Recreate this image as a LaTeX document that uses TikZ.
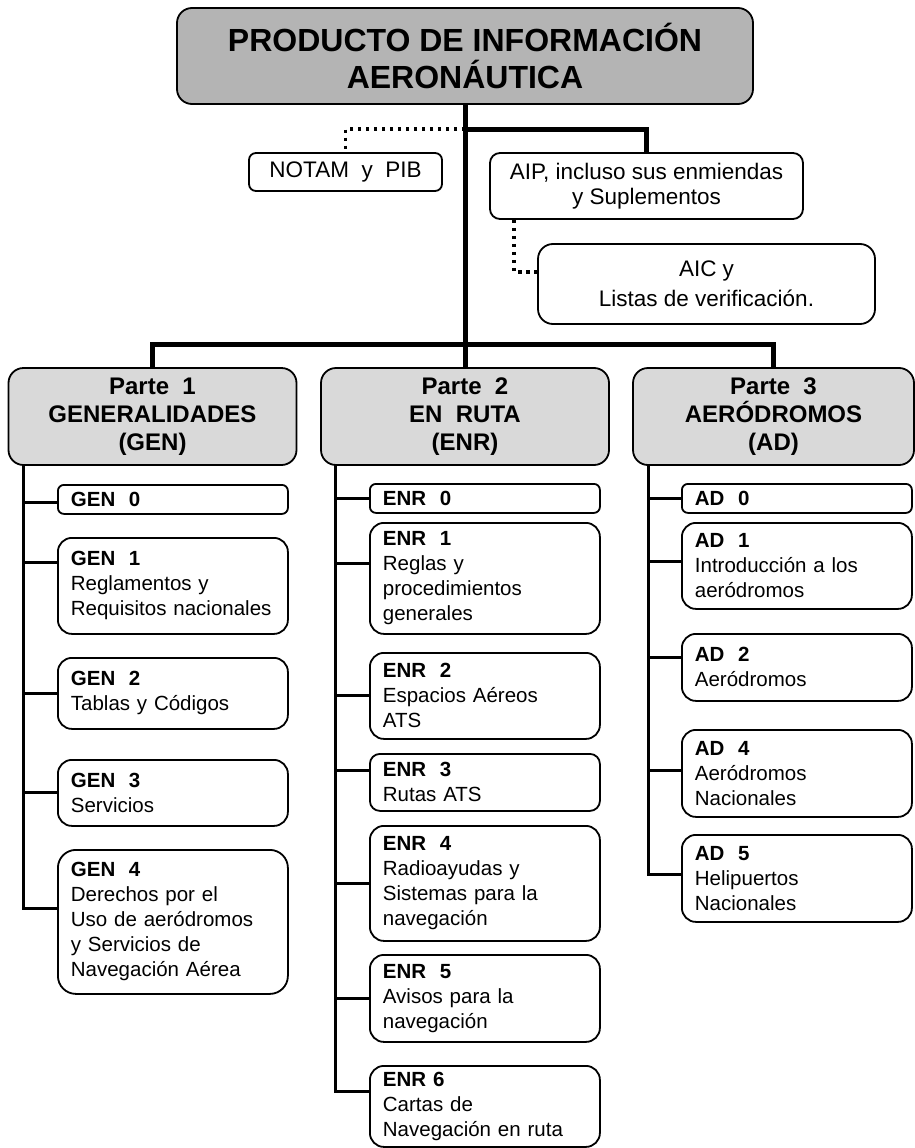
\documentclass[tikz,border=0pt]{standalone}
\usepackage{fontspec}
\setmainfont{Liberation Sans}
\definecolor{topgray}{RGB}{180,180,180}
\definecolor{partgray}{RGB}{217,217,217}
\begin{document}
\begin{tikzpicture}
  [x=1pt,y=-1pt,
   title/.style={rectangle,draw,fill=topgray,line width=1.8pt,rounded corners=15pt,align=center,
                 minimum width=576pt,minimum height=96pt,font=\fontsize{32}{37}\selectfont\bfseries},
   part/.style={rectangle,draw,fill=partgray,line width=1.8pt,rounded corners=15pt,align=center,
                minimum width=288pt,minimum height=97pt,font=\fontsize{24}{28}\selectfont\bfseries},
   note/.style={rectangle,draw,line width=1.8pt,rounded corners=10pt,align=center,inner sep=0pt,
                font=\fontsize{22.5}{25}\selectfont},
   item/.style={rectangle,draw,line width=1.8pt,rounded corners=14pt,anchor=north west,align=left,
                text width=204pt,inner xsep=13pt,inner ysep=0pt,font=\fontsize{20.5}{25}\selectfont},
   itemzero/.style={item,rounded corners=6pt,minimum height=29pt},
   trunk/.style={line width=5pt},
   spine/.style={line width=3pt},
   dotline/.style={line width=3.5pt,dash pattern=on 3.5pt off 4.5pt}]
  \useasboundingbox (0,0) rectangle (915,1148);
  % top level
  \node[title] (top) at (465,56) {PRODUCTO DE INFORMACIÓN\\AERONÁUTICA};
  \node[note,minimum width=193pt,minimum height=38pt,rounded corners=7pt] (notam) at (345.5,172) {NOTAM\ \ y\ \ PIB};
  \node[note,minimum width=313pt,minimum height=66pt] (aip) at (646.5,186) {AIP, incluso sus enmiendas\\y Suplementos};
  \node[note,minimum width=337pt,minimum height=80pt,rounded corners=15pt,
        font=\fontsize{22.5}{30}\selectfont] (aic) at (706.5,284) {AIC y\\Listas de verificación.};
  \coordinate (up) at (465,129);
  \coordinate (bar) at (465,344);
  % partes
  \node[part] (p1) at (152.5,416.5) {Parte\ \ 1\\GENERALIDADES\\(GEN)};
  \node[part] (p2) at (465,416.5) {Parte\ \ 2\\EN\ \ RUTA\\(ENR)};
  \node[part,minimum width=281pt] (p3) at (773.5,416.5) {Parte\ \ 3\\AERÓDROMOS\\(AD)};
  % GEN
  \node[itemzero] (g0) at (57,484) {\textbf{GEN\ \ 0}};
  \node[item,minimum height=96pt] (g1) at (57,537) {\textbf{GEN\ \ 1}\\Reglamentos y\\Requisitos nacionales};
  \node[item,minimum height=71pt] (g2) at (57,657) {\textbf{GEN\ \ 2}\\Tablas y Códigos};
  \node[item,minimum height=66pt] (g3) at (57,759) {\textbf{GEN\ \ 3}\\Servicios};
  \node[item,minimum height=144pt,rounded corners=18pt] (g4) at (57,849) {\textbf{GEN\ \ 4}\\Derechos por el\\Uso de aeródromos\\y Servicios de\\Navegación Aérea};
  % ENR
  \node[itemzero] (e0) at (369,483) {\textbf{ENR\ \ 0}};
  \node[item,minimum height=111pt] (e1) at (369,522) {\textbf{ENR\ \ 1}\\Reglas y\\procedimientos\\generales};
  \node[item,minimum height=86pt] (e2) at (369,652) {\textbf{ENR\ \ 2}\\Espacios Aéreos\\ATS};
  \node[item,minimum height=57pt,rounded corners=10pt] (e3) at (369,753) {\textbf{ENR\ \ 3}\\Rutas ATS};
  \node[item,minimum height=115pt] (e4) at (369,825) {\textbf{ENR\ \ 4}\\Radioayudas y\\Sistemas para la\\navegación};
  \node[item,minimum height=87pt] (e5) at (369,954) {\textbf{ENR\ \ 5}\\Avisos para la\\navegación};
  \node[item,minimum height=81pt] (e6) at (369,1065) {\textbf{ENR 6}\\Cartas de\\Navegación en ruta};
  % AD
  \node[itemzero] (a0) at (681,483) {\textbf{AD\ \ 0}};
  \node[item,minimum height=86pt] (a1) at (681,522) {\textbf{AD\ \ 1}\\Introducción a los\\aeródromos};
  \node[item,minimum height=67pt] (a2) at (681,633) {\textbf{AD\ \ 2}\\Aeródromos};
  \node[item,minimum height=87pt] (a4) at (681,729) {\textbf{AD\ \ 4}\\Aeródromos\\Nacionales};
  \node[item,minimum height=87pt] (a5) at (681,834) {\textbf{AD\ \ 5}\\Helipuertos\\Nacionales};
  % connectors
  \draw[trunk] (top) -- (p2);
  \draw[trunk] (up) -| (aip.north);
  \draw[dotline] (up) -| (notam.north);
  \draw[dotline] ([xshift=25pt]aip.south west) |- ([yshift=12pt]aic.west);
  \draw[trunk] (p1.north) |- (bar) -| (p3.north);
  \coordinate (gs) at (23,465);
  \draw[spine] (gs) |- ([yshift=13pt]g4.west);
  \draw[spine] ([yshift=-3pt]g0.west) -| (gs);
  \draw[spine] ([yshift=23pt]g1.west) -| (gs);
  \draw[spine] (g2.west) -| (gs);
  \draw[spine] (g3.west) -| (gs);
  \coordinate (es) at (335,465);
  \draw[spine] (es) |- ([yshift=15pt]e6.west);
  \draw[spine] (e0.west) -| (es);
  \draw[spine] ([yshift=15pt]e1.west) -| (es);
  \draw[spine] (e2.west) -| (es);
  \draw[spine] ([yshift=12pt]e3.west) -| (es);
  \draw[spine] (e4.west) -| (es);
  \draw[spine] (e5.west) -| (es);
  \coordinate (as) at (648,465);
  \draw[spine] (as) |- ([yshift=4pt]a5.west);
  \draw[spine] (a0.west) -| (as);
  \draw[spine] ([yshift=4pt]a1.west) -| (as);
  \draw[spine] ([yshift=10pt]a2.west) -| (as);
  \draw[spine] ([yshift=3pt]a4.west) -| (as);
\end{tikzpicture}
\end{document}
